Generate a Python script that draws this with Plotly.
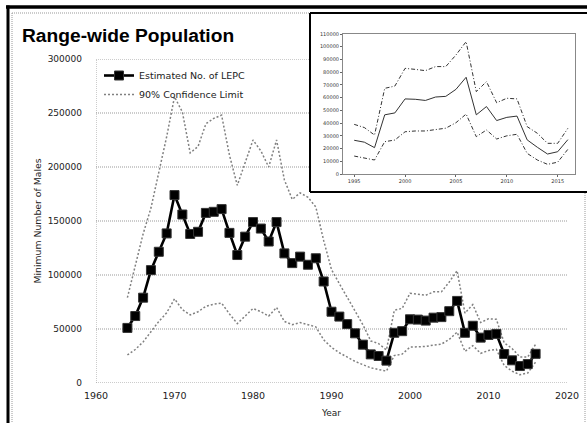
import plotly.graph_objects as go

# ---------------- data ----------------
years = list(range(1964, 2017))
estimate = [51000, 62000, 79000, 104500, 121500, 138500, 174000, 156000, 138000, 140000,
            157500, 158500, 161000, 139000, 118500, 135500, 149000, 143000, 131000, 149000,
            120000, 111000, 117000, 109500, 115500, 94000, 66000, 61500, 54500, 46000,
            35500, 26500, 25000, 20700, 46500, 48000, 59000, 58700, 57800, 60500,
            61000, 66500, 76000, 46500, 53000, 42000, 44500, 45500, 26800, 21000,
            15700, 17500, 27000]
upper = [79000, 108000, 138000, 162000, 195000, 228000, 265000, 251000, 213000, 219000,
         240000, 245000, 248000, 211000, 183000, 203000, 225000, 215000, 200000, 225000,
         188000, 170000, 176000, 172000, 163000, 132000, 105000, 92000, 79000, 67000,
         54000, 39000, 36500, 30600, 67300, 69100, 83000, 82200, 81200, 84400,
         84400, 93500, 104000, 64700, 72600, 56000, 59500, 59000, 37200, 32000,
         24100, 24100, 35900]
lower = [26000, 31000, 38000, 48000, 57000, 65000, 78000, 68000, 63000, 66000,
         71000, 73000, 74000, 64000, 55000, 62000, 69000, 66000, 62000, 70000,
         57000, 54000, 56000, 54000, 52000, 40000, 33000, 28000, 24000, 20000,
         17000, 14100, 12500, 11000, 25400, 26700, 33200, 33800, 33800, 35100,
         36000, 40300, 47100, 29300, 34600, 27500, 30000, 31200, 16200, 11000,
         7600, 9300, 19400]

main_x_ticks = [1960, 1970, 1980, 1990, 2000, 2010, 2020]
main_y_ticks = [0, 50000, 100000, 150000, 200000, 250000, 300000]
inset_start = 1995
inset_x_ticks = [1995, 2000, 2005, 2010, 2015]
inset_y_ticks = list(range(0, 110001, 10000))

# ---------------- geometry (reference pixel -> paper) ----------------
W, H = 587, 423
L, R, T, B = 96, 12, 34, 40
PW, PH = W - L - R, H - T - B


def X(px):
    return (px - L) / PW


def Y(py):
    return (H - B - py) / PH


i0 = years.index(inset_start)
iy = years[i0:]

ci_line = dict(color="#808080", width=1.5, dash="2px,2px")

fig = go.Figure()

# main chart
fig.add_trace(go.Scatter(x=years, y=upper, mode="lines", name="90% Confidence Limit",
                         line=ci_line, legendrank=2, showlegend=True))
fig.add_trace(go.Scatter(x=years, y=lower, mode="lines", name="90% Confidence Limit",
                         line=ci_line, showlegend=False))
fig.add_trace(go.Scatter(x=years, y=estimate, mode="lines+markers", name="Estimated No. of LEPC",
                         line=dict(color="black", width=2.6),
                         marker=dict(symbol="square", size=9, color="black",
                                     line=dict(color="#333", width=1)),
                         legendrank=1))

# inset chart
dash_ci = "4px,2px,1px,2px"
fig.add_trace(go.Scatter(x=iy, y=upper[i0:], mode="lines", xaxis="x2", yaxis="y2",
                         line=dict(color="#333", width=1, dash=dash_ci), showlegend=False))
fig.add_trace(go.Scatter(x=iy, y=estimate[i0:], mode="lines", xaxis="x2", yaxis="y2",
                         line=dict(color="#333", width=1), showlegend=False))
fig.add_trace(go.Scatter(x=iy, y=lower[i0:], mode="lines", xaxis="x2", yaxis="y2",
                         line=dict(color="#333", width=1, dash=dash_ci), showlegend=False))

shapes = []
# outer gray dotted border (left, top, right)
for (x0, y0, x1, y1) in [(12, 13, 12, 423), (12, 13, 585, 13), (585, 13, 585, 423)]:
    shapes.append(dict(type="line", xref="paper", yref="paper", layer="below",
                       x0=X(x0), x1=X(x1), y0=Y(y0), y1=Y(y1),
                       line=dict(color="#999", width=1, dash="1px,1px")))
# grid lines (main)
for v in main_y_ticks:
    shapes.append(dict(type="line", xref="paper", yref="y", layer="below",
                       x0=0, x1=X(567), y0=v, y1=v,
                       line=dict(color="#999", width=1, dash="1px,1px")))
# left axis line
shapes.append(dict(type="line", xref="x", yref="paper", layer="below",
                   x0=main_x_ticks[0], x1=main_x_ticks[0], y0=0, y1=Y(59),
                   line=dict(color="#999", width=1, dash="1px,1px")))
# inset white box (fill) and its black border (left, top, bottom)
shapes.append(dict(type="rect", xref="paper", yref="paper", layer="below",
                   x0=X(310), x1=X(587), y0=Y(192), y1=Y(13),
                   fillcolor="white", line=dict(width=0)))
for (x0, y0, x1, y1) in [(310, 13, 310, 192), (310, 13, 587, 13), (310, 192, 587, 192)]:
    shapes.append(dict(type="line", xref="paper", yref="paper", layer="below",
                       x0=X(x0), x1=X(x1), y0=Y(y0), y1=Y(y1),
                       line=dict(color="black", width=2)))
# thick black frame top and left
shapes.append(dict(type="line", xref="paper", yref="paper", layer="above",
                   x0=X(6), x1=X(587), y0=Y(7), y1=Y(7),
                   line=dict(color="black", width=3.5)))
shapes.append(dict(type="line", xref="paper", yref="paper", layer="above",
                   x0=X(8), x1=X(8), y0=Y(423), y1=Y(5.5),
                   line=dict(color="black", width=3)))

fig.update_layout(
    width=W, height=H, autosize=False,
    margin=dict(l=L, r=R, t=T, b=B, autoexpand=False),
    paper_bgcolor="white", plot_bgcolor="rgba(0,0,0,0)",
    font=dict(family="DejaVu Sans", color="#222"),
    title=dict(text="<b>Range-wide Population</b>", xref="container", yref="container",
               x=22 / W, xanchor="left", y=1 - 35 / H, yanchor="middle",
               font=dict(family="Liberation Sans", size=19.2, color="black")),
    xaxis=dict(domain=[0, X(567)], range=[1960, 2020], tickvals=main_x_ticks,
               showgrid=False, zeroline=False, showline=False, ticks="", automargin=False,
               ticklabelstandoff=5, tickfont=dict(size=9.5),
               title=dict(text="Year", font=dict(size=9), standoff=9.5)),
    yaxis=dict(domain=[0, Y(59)], range=[0, 300000], tickvals=main_y_ticks,
               tickformat="d", showgrid=False, zeroline=False, showline=False, ticks="",
               automargin=False, ticklabelstandoff=13, tickfont=dict(size=9),
               title=dict(text="Minimum Number of Males", font=dict(size=9.3), standoff=3.5)),
    xaxis2=dict(domain=[X(343), 1], range=[1993.9, 2016.7], anchor="y2",
                tickvals=inset_x_ticks, showgrid=False, zeroline=False, automargin=False,
                showline=True, mirror=True, linecolor="#888", linewidth=1,
                ticks="outside", ticklen=2, tickcolor="#666",
                tickfont=dict(size=5, color="#333")),
    yaxis2=dict(domain=[Y(174), Y(34)], range=[0, 110000], anchor="x2",
                tickvals=inset_y_ticks, tickformat="d", showgrid=False, zeroline=False,
                automargin=False,
                showline=True, mirror=True, linecolor="#888", linewidth=1,
                ticks="outside", ticklen=2, tickcolor="#666",
                tickfont=dict(size=5, color="#333")),
    legend=dict(x=X(99), y=Y(61), xanchor="left", yanchor="top",
                bgcolor="rgba(0,0,0,0)", font=dict(size=9.5, color="#222"),
                tracegroupgap=0),
    shapes=shapes,
)

fig.write_html(
    "out.html",
    config={"displayModeBar": False},
    post_script="document.body.style.margin='0';"
                "document.documentElement.style.overflow='hidden';"
                "document.body.style.overflow='hidden';",
)
